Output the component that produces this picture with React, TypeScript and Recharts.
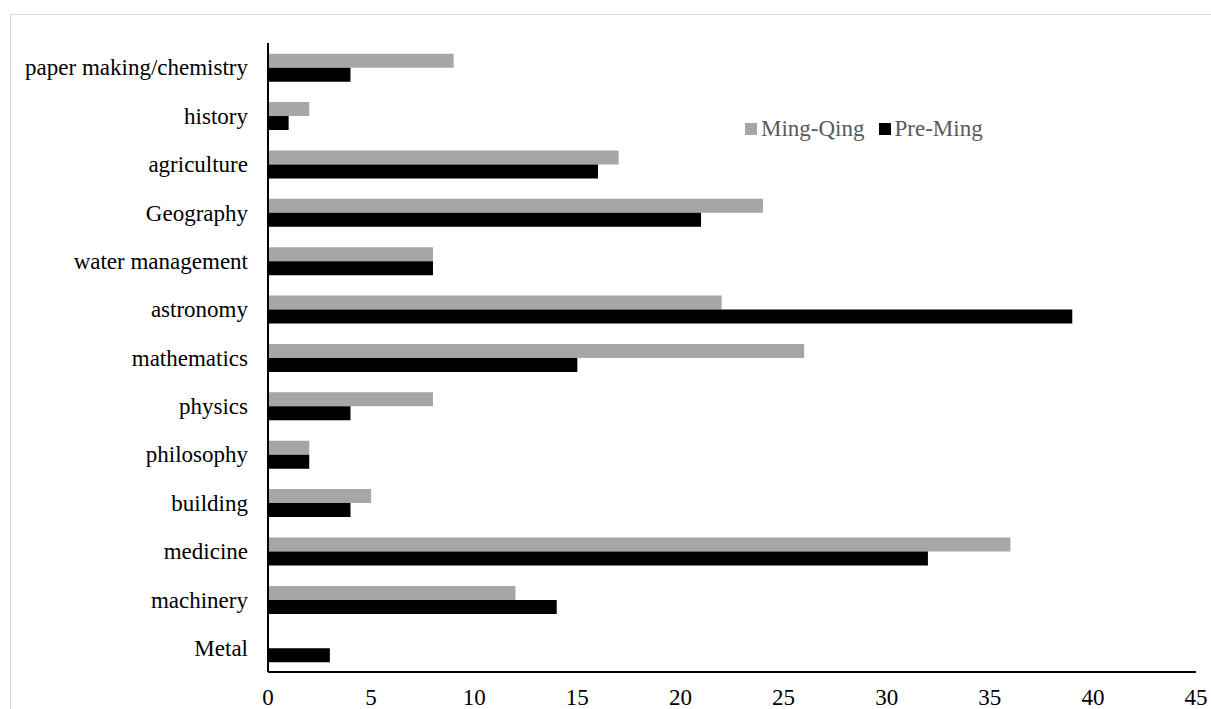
import React from "react";
import { BarChart, Bar, XAxis, YAxis, Legend } from "recharts";

// Fields of study, listed top to bottom
const categories = [
  "paper making/chemistry",
  "history",
  "agriculture",
  "Geography",
  "water management",
  "astronomy",
  "mathematics",
  "physics",
  "philosophy",
  "building",
  "medicine",
  "machinery",
  "Metal",
];

const mingQing = [9, 2, 17, 24, 8, 22, 26, 8, 2, 5, 36, 12, 0];
const preMing = [4, 1, 16, 21, 8, 39, 15, 4, 2, 4, 32, 14, 3];

const xTicks = [0, 5, 10, 15, 20, 25, 30, 35, 40, 45];

const data = categories.map((name, i) => ({
  name,
  mingQing: mingQing[i],
  preMing: preMing[i],
}));

const FONT = "'Liberation Serif', 'Times New Roman', serif";
const FONT_SIZE = 23;

const legendItems = [
  { label: "Ming-Qing", color: "#a6a6a6" },
  { label: "Pre-Ming", color: "#000000" },
];

function LegendContent() {
  return (
    <div style={{ display: "flex", alignItems: "center", fontFamily: FONT, fontSize: FONT_SIZE, color: "#595959", lineHeight: 1 }}>
      {legendItems.map((it) => (
        <div key={it.label} style={{ display: "flex", alignItems: "center", marginRight: 14 }}>
          <span style={{ display: "inline-block", width: 12, height: 12, background: it.color, marginRight: 4 }} />
          <span>{it.label}</span>
        </div>
      ))}
    </div>
  );
}

export default function App() {
  return (
    <>
      <style>{"html, body { margin: 0; padding: 0; overflow: hidden; }"}</style>
      <div style={{ position: "relative", width: 1211, height: 709, overflow: "hidden", background: "#fff" }}>
        <div
          style={{
            position: "absolute",
            left: 10,
            top: 14,
            width: 1260,
            height: 760,
            border: "1px solid #d9d9d9",
            boxSizing: "border-box",
          }}
        />
        <div style={{ position: "absolute", left: 0, top: 0 }}>
          <BarChart
            width={1211}
            height={709}
            data={data}
            layout="vertical"
            margin={{ top: 43, right: 15, bottom: 0, left: 0 }}
            barCategoryGap="22%"
            barGap={0}
          >
            <XAxis
              type="number"
              domain={[0, 45]}
              ticks={xTicks}
              interval={0}
              tickLine={false}
              tickSize={0}
              tickMargin={17}
              height={37}
              axisLine={{ stroke: "#000", strokeWidth: 2 }}
              tick={{ fill: "#000", fontFamily: FONT, fontSize: FONT_SIZE }}
            />
            <YAxis
              type="category"
              dataKey="name"
              width={268}
              interval={0}
              tickLine={false}
              tickSize={0}
              tickMargin={20}
              axisLine={{ stroke: "#000", strokeWidth: 2 }}
              tick={{ fill: "#000", fontFamily: FONT, fontSize: FONT_SIZE }}
            />
            <Legend
              layout="horizontal"
              align="center"
              verticalAlign="middle"
              content={<LegendContent />}
              wrapperStyle={{ position: "absolute", left: 745, top: 117, width: 300 }}
            />
            <Bar dataKey="mingQing" name="Ming-Qing" fill="#a6a6a6" isAnimationActive={false} />
            <Bar dataKey="preMing" name="Pre-Ming" fill="#000000" isAnimationActive={false} />
          </BarChart>
        </div>
      </div>
    </>
  );
}
